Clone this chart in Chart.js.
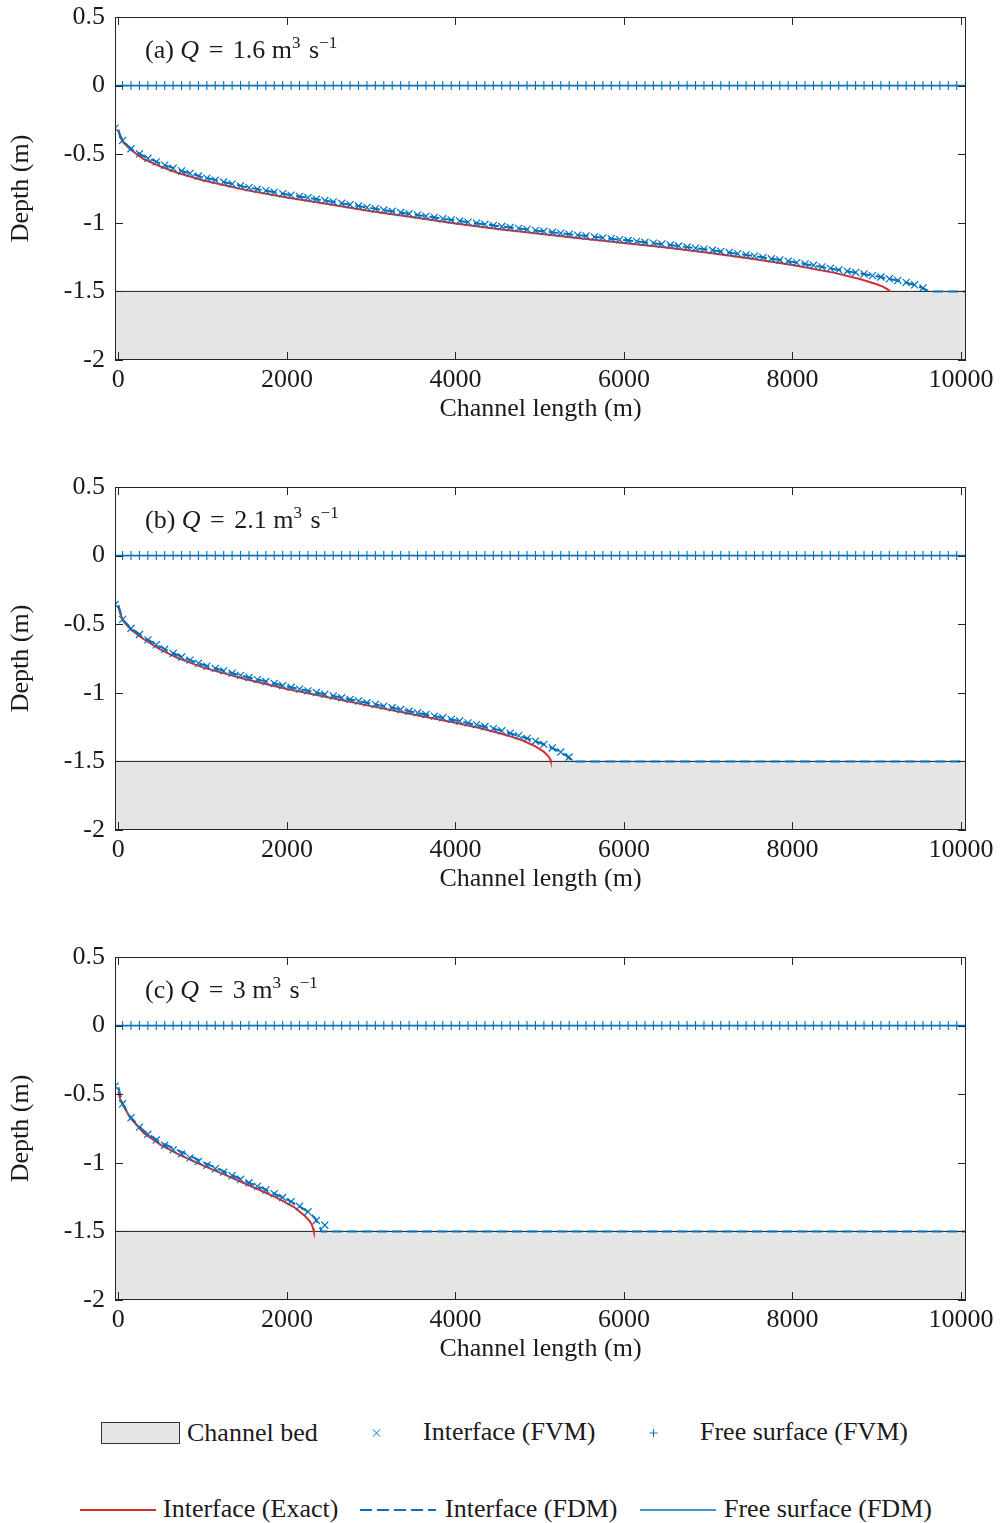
<!DOCTYPE html>
<html>
<head>
<meta charset="utf-8">
<script src="https://cdn.jsdelivr.net/npm/chart.js@4.4.1/dist/chart.umd.min.js"></script>
<style>
  body { margin: 0; background: #fff; width: 1000px; height: 1523px; position: relative; overflow: hidden; font-family: 'Liberation Serif', serif; }
  canvas { position: absolute; left: 0; }
  .lg { position: absolute; font-size: 26px; line-height: 30px; color: #1a1a1a; white-space: nowrap; transform: translateY(-50%); }
  .sw { position: absolute; transform: translateY(-50%); }
</style>
</head>
<body>
<canvas id="c0" width="1000" height="470" style="top:0px"></canvas>
<canvas id="c1" width="1000" height="470" style="top:470px"></canvas>
<canvas id="c2" width="1000" height="470" style="top:940px"></canvas>

<!-- legend -->
<div class="sw" style="left:101px;top:1433px;width:77px;height:20px;border:1px solid #333;background:#e5e5e5"></div>
<div class="lg" style="left:187px;top:1433px">Channel bed</div>
<svg class="sw" style="left:372px;top:1433px" width="9" height="9"><path d="M1 1L8 8M8 1L1 8" stroke="#0072bd" stroke-width="1"/></svg>
<div class="lg" style="left:423px;top:1432px">Interface (FVM)</div>
<svg class="sw" style="left:649px;top:1433px" width="9" height="9"><path d="M4.5 0.5V8.5M0.5 4.5H8.5" stroke="#0072bd" stroke-width="1"/></svg>
<div class="lg" style="left:700px;top:1432px">Free surface (FVM)</div>
<svg class="sw" style="left:80px;top:1510px" width="76" height="4"><path d="M0 2H76" stroke="#d62f2f" stroke-width="2"/></svg>
<div class="lg" style="left:163px;top:1509px">Interface (Exact)</div>
<svg class="sw" style="left:360px;top:1510px" width="76" height="4"><path d="M0 2H76" stroke="#0072bd" stroke-width="2" stroke-dasharray="12 5"/></svg>
<div class="lg" style="left:445px;top:1509px">Interface (FDM)</div>
<svg class="sw" style="left:640px;top:1510px" width="76" height="4"><path d="M0 2H76" stroke="#0072bd" stroke-width="1.5"/></svg>
<div class="lg" style="left:724px;top:1509px">Free surface (FDM)</div>

<script>
// axis ticks
const xTicks = [0, 2000, 4000, 6000, 8000, 10000];
const yTicks = [-2, -1.5, -1, -0.5, 0, 0.5];

// panel labels
const panelLetters = ['(a)', '(b)', '(c)'];
const flowRates = ['1.6', '2.1', '3'];

// FVM cell centres (m)
const cellX = [-40, 50, 150, 250, 350, 450, 550, 650, 750, 850, 950,
  1050, 1150, 1250, 1350, 1450, 1550, 1650, 1750, 1850, 1950,
  2050, 2150, 2250, 2350, 2450, 2550, 2650, 2750, 2850, 2950,
  3050, 3150, 3250, 3350, 3450, 3550, 3650, 3750, 3850, 3950,
  4050, 4150, 4250, 4350, 4450, 4550, 4650, 4750, 4850, 4950,
  5050, 5150, 5250, 5350, 5450, 5550, 5650, 5750, 5850, 5950,
  6050, 6150, 6250, 6350, 6450, 6550, 6650, 6750, 6850, 6950,
  7050, 7150, 7250, 7350, 7450, 7550, 7650, 7750, 7850, 7950,
  8050, 8150, 8250, 8350, 8450, 8550, 8650, 8750, 8850, 8950,
  9050, 9150, 9250, 9350, 9450, 9550, 9650, 9750, 9850, 9950];

// free surface (FVM), same in all panels
const surfaceFVM = [0, 0, 0, 0, 0, 0, 0, 0, 0, 0, 0,
  0, 0, 0, 0, 0, 0, 0, 0, 0, 0,
  0, 0, 0, 0, 0, 0, 0, 0, 0, 0,
  0, 0, 0, 0, 0, 0, 0, 0, 0, 0,
  0, 0, 0, 0, 0, 0, 0, 0, 0, 0,
  0, 0, 0, 0, 0, 0, 0, 0, 0, 0,
  0, 0, 0, 0, 0, 0, 0, 0, 0, 0,
  0, 0, 0, 0, 0, 0, 0, 0, 0, 0,
  0, 0, 0, 0, 0, 0, 0, 0, 0, 0,
  0, 0, 0, 0, 0, 0, 0, 0, 0, 0];

// free surface (FDM)
const surfaceFdmX = [-40, 10060];
const surfaceFdmY = [0, 0];

// channel bed
const bedX = [-40, 10060];
const bedY = [-1.5, -1.5];

// (a) Q = 1.6
const fvmA = [-0.31,
  -0.40, -0.46, -0.497, -0.53, -0.556, -0.58, -0.603, -0.622, -0.64, -0.659,
  -0.675, -0.689, -0.703, -0.717, -0.731, -0.744, -0.755, -0.766, -0.777, -0.788,
  -0.798, -0.808, -0.818, -0.828, -0.838, -0.848, -0.858, -0.868, -0.878, -0.888,
  -0.898, -0.907, -0.916, -0.925, -0.934, -0.943, -0.952, -0.961, -0.970, -0.979,
  -0.987, -0.995, -1.003, -1.011, -1.019, -1.027, -1.034, -1.041, -1.048, -1.055,
  -1.062, -1.069, -1.076, -1.083, -1.090, -1.096, -1.103, -1.110, -1.116, -1.123,
  -1.129, -1.136, -1.142, -1.148, -1.155, -1.162, -1.169, -1.177, -1.185, -1.192,
  -1.200, -1.209, -1.217, -1.225, -1.234, -1.243, -1.252, -1.262, -1.271, -1.280,
  -1.290, -1.300, -1.310, -1.321, -1.332, -1.343, -1.353, -1.362, -1.373, -1.385,
  -1.395, -1.408, -1.420, -1.435, -1.452, -1.475];
const exactAX = [0, 20, 60, 150, 300, 500, 700, 1000, 1500, 2000, 2500, 3000, 3500, 4000, 4500,
  5000, 5500, 6000, 6500, 7000, 7500, 8000, 8500, 8800, 9000, 9080, 9120, 9145, 9158];
const exactAY = [-0.32, -0.37, -0.415, -0.47, -0.535, -0.59, -0.635, -0.69, -0.76, -0.815, -0.865, -0.915, -0.96, -1.005, -1.045,
  -1.08, -1.115, -1.148, -1.18, -1.218, -1.26, -1.307, -1.365, -1.41, -1.448, -1.467, -1.482, -1.492, -1.5];
const fdmAX = [0, 50, 150, 300, 500, 750, 1000, 1500, 2000, 2500, 3000, 3500, 4000, 4500, 5000,
  5500, 6000, 6500, 7000, 7500, 8000, 8500, 9000, 9300, 9500, 9620, 10060];
const fdmAY = [-0.33, -0.40, -0.46, -0.514, -0.568, -0.622, -0.667, -0.738, -0.793, -0.843, -0.893, -0.939, -0.983, -1.023, -1.059,
  -1.093, -1.126, -1.159, -1.196, -1.239, -1.285, -1.338, -1.39, -1.428, -1.463, -1.5, -1.5];

// (b) Q = 2.1
const fvmB = [-0.357,
  -0.465, -0.53, -0.575, -0.614, -0.65, -0.683, -0.713, -0.739, -0.762, -0.785,
  -0.806, -0.823, -0.84, -0.857, -0.873, -0.889, -0.904, -0.918, -0.932, -0.947,
  -0.960, -0.973, -0.986, -0.998, -1.011, -1.023, -1.036, -1.048, -1.060, -1.073,
  -1.085, -1.097, -1.109, -1.122, -1.134, -1.146, -1.158, -1.170, -1.182, -1.194,
  -1.206, -1.219, -1.232, -1.246, -1.261, -1.277, -1.294, -1.312, -1.332, -1.353,
  -1.376, -1.402, -1.432, -1.468];
const exactBX = [0, 20, 60, 150, 300, 500, 700, 1000, 1500, 2000, 2500, 3000, 3500, 4000, 4300,
  4600, 4800, 4950, 5050, 5100, 5125, 5132];
const exactBY = [-0.37, -0.42, -0.478, -0.54, -0.61, -0.685, -0.745, -0.815, -0.9, -0.972, -1.035, -1.097, -1.158, -1.218, -1.258,
  -1.307, -1.348, -1.39, -1.43, -1.46, -1.485, -1.5];
const fdmBX = [0, 50, 150, 300, 500, 750, 1000, 1500, 2000, 2500, 3000, 3500, 4000, 4500, 4800,
  5000, 5200, 5300, 5390, 10060];
const fdmBY = [-0.36, -0.465, -0.53, -0.595, -0.666, -0.739, -0.796, -0.881, -0.954, -1.017, -1.079, -1.14, -1.2, -1.269, -1.322,
  -1.364, -1.417, -1.45, -1.5, -1.5];

// (c) Q = 3
const fvmC = [-0.442,
  -0.57, -0.672, -0.74, -0.792, -0.834, -0.872, -0.905, -0.935, -0.964, -0.991,
  -1.018, -1.043, -1.068, -1.094, -1.12, -1.146, -1.172, -1.198, -1.225, -1.253,
  -1.283, -1.317, -1.357, -1.42, -1.455];
const exactCX = [0, 20, 63, 142, 300, 498, 696, 893, 1091, 1289, 1487, 1684, 1882, 2080, 2218,
  2270, 2297, 2312, 2320];
const exactCY = [-0.48, -0.53, -0.588, -0.673, -0.782, -0.867, -0.933, -0.989, -1.042, -1.093, -1.147, -1.2, -1.256, -1.321, -1.39,
  -1.425, -1.451, -1.48, -1.5];
const fdmCX = [0, 50, 150, 300, 500, 750, 1000, 1250, 1500, 1750, 2000, 2150, 2250, 2330, 2380,
  2410, 10060];
const fdmCY = [-0.45, -0.57, -0.672, -0.766, -0.852, -0.92, -0.994, -1.062, -1.132, -1.196, -1.267, -1.317, -1.357, -1.40, -1.45,
  -1.5, -1.5];

const BLUE = '#0072bd';
const RED = '#d62f2f';
const FONT = "'Liberation Serif', serif";
const FS = 26;

const pts = (xs, ys) => ys.map((y, i) => ({x: xs[i], y: y}));

// box with inward ticks on all four sides
const boxTicks = {
  id: 'boxTicks',
  afterDatasetsDraw(chart) {
    const {ctx, chartArea: a, scales: {x, y}} = chart;
    const len = 8;
    ctx.save();
    ctx.strokeStyle = '#262626';
    ctx.lineWidth = 1;
    ctx.beginPath();
    xTicks.forEach(v => {
      const p = Math.round(x.getPixelForValue(v)) + 0.5;
      ctx.moveTo(p, a.bottom); ctx.lineTo(p, a.bottom - len);
      ctx.moveTo(p, a.top); ctx.lineTo(p, a.top + len);
    });
    yTicks.forEach(v => {
      const p = Math.round(y.getPixelForValue(v)) + 0.5;
      ctx.moveTo(a.left, p); ctx.lineTo(a.left + len, p);
      ctx.moveTo(a.right, p); ctx.lineTo(a.right - len, p);
    });
    ctx.stroke();
    ctx.strokeRect(a.left + 0.5, a.top + 0.5, a.right - a.left - 1, a.bottom - a.top - 1);
    ctx.restore();
  }
};

// "(a) Q = 1.6 m3 s-1" with italic Q and superscripts
const panelLabel = {
  id: 'panelLabel',
  afterDraw(chart, args, opts) {
    const {ctx} = chart;
    const sup = 17;
    const parts = [
      {t: opts.letter + ' ', f: `${FS}px ${FONT}`, dy: 0, gap: 0},
      {t: 'Q', f: `italic ${FS}px ${FONT}`, dy: 0, gap: 3},
      {t: ' = ', f: `${FS}px ${FONT}`, dy: 0, gap: 3},
      {t: opts.q + ' m', f: `${FS}px ${FONT}`, dy: 0, gap: 0},
      {t: '3', f: `${sup}px ${FONT}`, dy: -10, gap: 2},
      {t: ' s', f: `${FS}px ${FONT}`, dy: 0, gap: 0},
      {t: '\u22121', f: `${sup}px ${FONT}`, dy: -10, gap: 0}
    ];
    let x = 145;
    const base = 58;
    ctx.save();
    ctx.fillStyle = '#1a1a1a';
    ctx.textBaseline = 'alphabetic';
    parts.forEach(p => {
      ctx.font = p.f;
      ctx.fillText(p.t, x, base + p.dy);
      x += ctx.measureText(p.t).width + p.gap;
    });
    ctx.restore();
  }
};

function makeChart(id, k, fvm, exX, exY, fdX, fdY) {
  const fvmX = cellX.slice(0, fvm.length);
  new Chart(document.getElementById(id), {
    type: 'scatter',
    data: {
      datasets: [
        {label: 'Interface (FVM)', data: pts(fvmX, fvm), pointStyle: 'crossRot', pointRadius: 5,
          borderColor: BLUE, backgroundColor: BLUE, borderWidth: 1.2, showLine: false, order: 0},
        {label: 'Free surface (FVM)', data: pts(cellX, surfaceFVM), pointStyle: 'cross', pointRadius: 4.5,
          borderColor: BLUE, backgroundColor: BLUE, borderWidth: 1.1, showLine: false, order: 0},
        {label: 'Interface (FDM)', data: pts(fdX, fdY), showLine: true, pointRadius: 0,
          borderColor: BLUE, borderWidth: 2, borderDash: [10, 5], order: 1},
        {label: 'Interface (Exact)', data: pts(exX, exY), showLine: true, pointRadius: 0,
          borderColor: RED, borderWidth: 2, order: 2},
        {label: 'Free surface (FDM)', data: pts(surfaceFdmX, surfaceFdmY), showLine: true, pointRadius: 0,
          borderColor: BLUE, borderWidth: 1.5, order: 2},
        {label: 'Channel bed', data: pts(bedX, bedY), showLine: true, pointRadius: 0,
          borderColor: '#1a1a1a', borderWidth: 1, backgroundColor: '#e5e5e5', fill: 'start', order: 10}
      ]
    },
    options: {
      responsive: false,
      animation: false,
      events: [],
      layout: {padding: {left: 0, right: 34, top: 17, bottom: 0}},
      plugins: {
        legend: {display: false},
        tooltip: {enabled: false},
        panelLabel: {letter: panelLetters[k], q: flowRates[k]}
      },
      scales: {
        x: {
          type: 'linear', min: -40, max: 10060,
          afterBuildTicks: s => { s.ticks = xTicks.map(v => ({value: v})); },
          afterFit: s => { s.height = 110; s.paddingLeft = 0; s.paddingRight = 0; },
          grid: {display: false, drawTicks: false},
          border: {display: false},
          ticks: {padding: 5, color: '#1a1a1a', font: {family: FONT, size: FS}, maxRotation: 0,
            callback: v => String(v)},
          title: {display: true, text: 'Channel length (m)', color: '#1a1a1a',
            font: {family: FONT, size: FS}, padding: {top: 0, bottom: 45}}
        },
        y: {
          min: -2, max: 0.5,
          afterBuildTicks: s => { s.ticks = yTicks.map(v => ({value: v})); },
          afterFit: s => { s.width = 115; s.paddingTop = 0; s.paddingBottom = 0; },
          grid: {display: false, drawTicks: false},
          border: {display: false},
          ticks: {padding: 10, color: '#1a1a1a', font: {family: FONT, size: FS},
            callback: v => String(v)},
          title: {display: true, text: 'Depth (m)', color: '#1a1a1a',
            font: {family: FONT, size: FS}, padding: {top: 6, bottom: 0}}
        }
      }
    },
    plugins: [boxTicks, panelLabel]
  });
}

makeChart('c0', 0, fvmA, exactAX, exactAY, fdmAX, fdmAY);
makeChart('c1', 1, fvmB, exactBX, exactBY, fdmBX, fdmBY);
makeChart('c2', 2, fvmC, exactCX, exactCY, fdmCX, fdmCY);
</script>
</body>
</html>
